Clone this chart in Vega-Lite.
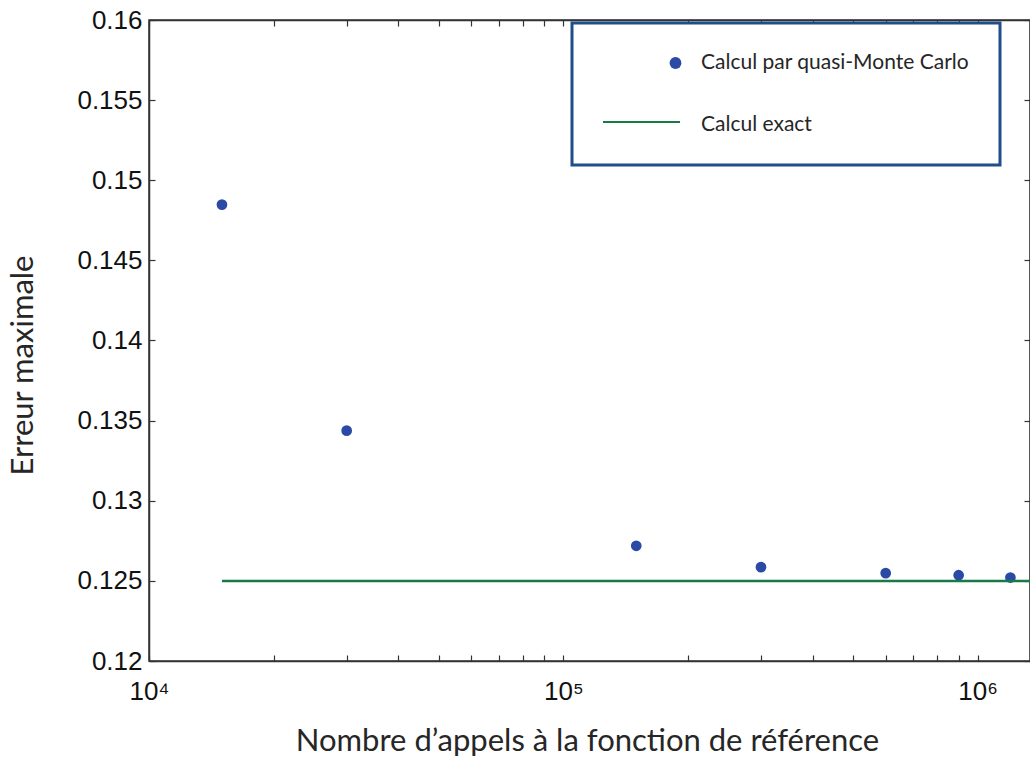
{
  "$schema": "https://vega.github.io/schema/vega-lite/v6.json",
  "width": 881,
  "height": 641,
  "autosize": "none",
  "padding": {"left": 149, "top": 20, "right": 0, "bottom": 99},
  "background": "white",
  "config": {
    "view": {"stroke": "#333333", "strokeWidth": 1.5},
    "legend": {"strokeWidth": 3},
    "axis": {
      "domainColor": "#333333",
      "domainWidth": 1.5,
      "tickColor": "#333333",
      "tickWidth": 1.2,
      "grid": false,
      "labelFont": "Liberation Sans",
      "labelFontSize": 26,
      "labelColor": "#111111",
      "titleFont": "Lato",
      "titleFontSize": 31,
      "titleFontWeight": "normal",
      "titleColor": "#262626"
    }
  },
  "layer": [
    {
      "data": {
        "values": [
          {"appels": 15000, "erreur": 0.14848, "serie": "Calcul par quasi-Monte Carlo"},
          {"appels": 30000, "erreur": 0.134375, "serie": "Calcul par quasi-Monte Carlo"},
          {"appels": 150000, "erreur": 0.12719, "serie": "Calcul par quasi-Monte Carlo"},
          {"appels": 300000, "erreur": 0.125856, "serie": "Calcul par quasi-Monte Carlo"},
          {"appels": 600000, "erreur": 0.125481, "serie": "Calcul par quasi-Monte Carlo"},
          {"appels": 900000, "erreur": 0.125356, "serie": "Calcul par quasi-Monte Carlo"},
          {"appels": 1200000, "erreur": 0.125206, "serie": "Calcul par quasi-Monte Carlo"}
        ]
      },
      "mark": {"type": "point", "filled": true, "size": 115, "opacity": 1, "clip": true},
      "encoding": {
        "x": {
          "field": "appels",
          "type": "quantitative",
          "scale": {"type": "log", "domain": [10000, 1338000], "nice": false},
          "axis": {
            "orient": "bottom",
            "values": [10000, 20000, 30000, 40000, 50000, 60000, 70000, 80000, 90000, 100000, 200000, 300000, 400000, 500000, 600000, 700000, 800000, 900000, 1000000],
            "labelExpr": "datum.value == 10000 ? '10⁴' : datum.value == 100000 ? '10⁵' : datum.value == 1000000 ? '10⁶' : ''",
            "tickSize": -6,
            "labelPadding": 23,
            "labelFlush": false,
            "labelOverlap": false,
            "title": "Nombre d’appels à la fonction de référence",
            "titleX": 438,
            "titleY": 89,
            "titleBaseline": "alphabetic"
          }
        },
        "y": {
          "field": "erreur",
          "type": "quantitative",
          "scale": {"domain": [0.12, 0.16], "nice": false, "zero": false},
          "axis": {
            "orient": "left",
            "values": [0.12, 0.125, 0.13, 0.135, 0.14, 0.145, 0.15, 0.155, 0.16],
            "format": ".3~f",
            "tickSize": -6,
            "labelPadding": 13,
            "labelFlush": false,
            "labelOverlap": false,
            "title": "Erreur maximale",
            "titleX": -126,
            "titleY": 345,
            "titleAlign": "center",
            "titleBaseline": "middle"
          }
        },
        "color": {
          "field": "serie",
          "type": "nominal",
          "scale": {
            "domain": ["Calcul par quasi-Monte Carlo", "Calcul exact"],
            "range": ["#2a4aa6", "rgba(255,255,255,0)"]
          },
          "legend": {
            "title": null,
            "orient": "none",
            "legendX": 423,
            "legendY": 3,
            "padding": 30,
            "strokeColor": "#1f4e8a",
            "fillColor": "white",
            "symbolType": "circle",
            "symbolSize": 140,
            "symbolOffset": 63,
            "clipHeight": 20,
            "rowPadding": 41,
            "labelOffset": 15,
            "labelFont": "Lato",
            "labelFontSize": 21,
            "labelColor": "#262626",
            "labelLimit": 500
          }
        }
      }
    },
    {
      "data": {
        "values": [
          {"appels": 15000, "erreur": 0.125, "serie": "Calcul exact"},
          {"appels": 1400000, "erreur": 0.125, "serie": "Calcul exact"}
        ]
      },
      "mark": {"type": "line", "strokeWidth": 2.5, "clip": true},
      "encoding": {
        "x": {
          "field": "appels",
          "type": "quantitative",
          "axis": {
            "orient": "top",
            "values": [10000, 20000, 30000, 40000, 50000, 60000, 70000, 80000, 90000, 100000, 200000, 300000, 400000, 500000, 600000, 700000, 800000, 900000, 1000000],
            "labels": false,
            "tickSize": -6,
            "title": null
          }
        },
        "y": {
          "field": "erreur",
          "type": "quantitative",
          "axis": {
            "orient": "right",
            "values": [0.12, 0.125, 0.13, 0.135, 0.14, 0.145, 0.15, 0.155, 0.16],
            "labels": false,
            "tickSize": -6,
            "title": null
          }
        },
        "color": {
          "field": "serie",
          "type": "nominal",
          "scale": {"domain": ["Calcul exact"], "range": ["#177a47"]},
          "legend": {
            "title": null,
            "orient": "none",
            "legendX": 453,
            "legendY": 92,
            "padding": 0,
            "symbolType": "stroke",
            "symbolSize": 5929,
            "symbolStrokeWidth": 2,
            "clipHeight": 20,
            "labelExpr": "''",
            "labelFontSize": 1
          }
        }
      }
    }
  ],
  "resolve": {
    "axis": {"x": "independent", "y": "independent"},
    "scale": {"color": "independent"}
  }
}
